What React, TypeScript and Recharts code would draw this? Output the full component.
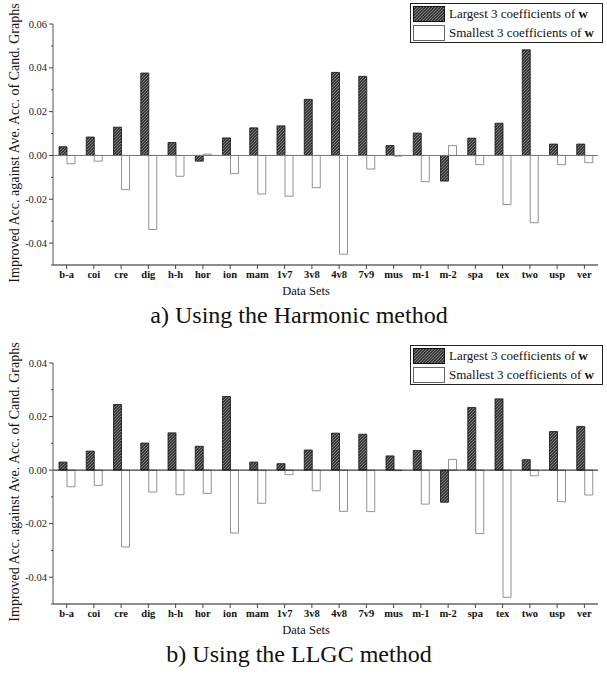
import React from 'react'
import { BarChart, Bar, XAxis, YAxis, ReferenceLine } from 'recharts'

const categories = ['b-a', 'coi', 'cre', 'dig', 'h-h', 'hor', 'ion', 'mam', '1v7', '3v8', '4v8', '7v9', 'mus', 'm-1', 'm-2', 'spa', 'tex', 'two', 'usp', 'ver']

// a) Harmonic
const harmonicLargest = [0.004, 0.0084, 0.0129, 0.0376, 0.0059, -0.0026, 0.008, 0.0126, 0.0135, 0.0256, 0.0379, 0.0361, 0.0045, 0.0102, -0.0117, 0.0079, 0.0147, 0.0482, 0.0052, 0.0052]
const harmonicSmallest = [-0.0038, -0.0026, -0.0156, -0.0338, -0.0095, 0.0006, -0.0083, -0.0176, -0.0186, -0.0147, -0.0451, -0.0062, -0.0003, -0.012, 0.0045, -0.0042, -0.0224, -0.0307, -0.0042, -0.0033]

// b) LLGC
const llgcLargest = [0.003, 0.0071, 0.0245, 0.0101, 0.0139, 0.0089, 0.0275, 0.003, 0.0024, 0.0075, 0.0138, 0.0134, 0.0053, 0.0073, -0.012, 0.0234, 0.0266, 0.0039, 0.0144, 0.0163]
const llgcSmallest = [-0.0062, -0.0057, -0.0287, -0.0082, -0.0092, -0.0087, -0.0235, -0.0124, -0.0017, -0.0077, -0.0154, -0.0155, -0.0002, -0.0127, 0.004, -0.0237, -0.0475, -0.0021, -0.0118, -0.0093]

const harmonicTicks = [-0.05, -0.04, -0.03, -0.02, -0.01, 0, 0.01, 0.02, 0.03, 0.04, 0.05, 0.06]
const llgcTicks = [-0.05, -0.04, -0.03, -0.02, -0.01, 0, 0.01, 0.02, 0.03, 0.04]

const FONT = '"Liberation Serif", "Times New Roman", serif'
const AXIS_X = 53

const YTick = (props: any) => {
  const { y, payload } = props
  const v = payload.value
  const major = Math.abs(Math.round(v * 100)) % 2 === 0
  return (
    <g>
      <line x1={AXIS_X - (major ? 4 : 2)} x2={AXIS_X} y1={y} y2={y} stroke='#444' />
      {major && (
        <text x={AXIS_X - 6} y={y} dy='0.35em' textAnchor='end' fontSize={10.5} style={{ fontFamily: FONT }} fill='#222'>
          {v.toFixed(2)}
        </text>
      )}
    </g>
  )
}

function Hatch(props: { id: string }) {
  return (
    <pattern id={props.id} patternUnits='userSpaceOnUse' width={3} height={3}>
      <rect width={3} height={3} fill='#3a3a3a' />
      <path d='M-1,1 l2,-2 M0,3 l3,-3 M2,4 l2,-2' stroke='#9a9a9a' strokeWidth={0.7} />
    </pattern>
  )
}

function LegendBox(props: { top: number; id: string }) {
  return (
    <div
      style={{
        position: 'absolute',
        left: 410,
        top: props.top,
        width: 191,
        height: 38,
        border: '1px solid #222',
        background: '#fff',
        fontFamily: FONT,
        fontSize: 13,
        lineHeight: '19px',
        color: '#111',
        whiteSpace: 'nowrap',
      }}
    >
      <div style={{ display: 'flex', alignItems: 'center', height: 19 }}>
        <svg width={32} height={16} style={{ marginLeft: 2, marginRight: 4 }}>
          <defs>
            <Hatch id={props.id} />
          </defs>
          <rect x={0.5} y={0.5} width={31} height={15} fill={`url(#${props.id})`} stroke='#111' />
        </svg>
        <span>
          Largest 3 coefficients of <b>w</b>
        </span>
      </div>
      <div style={{ display: 'flex', alignItems: 'center', height: 19 }}>
        <svg width={32} height={16} style={{ marginLeft: 2, marginRight: 4 }}>
          <rect x={0.5} y={0.5} width={31} height={15} fill='#fff' stroke='#666' />
        </svg>
        <span>
          Smallest 3 coefficients of <b>w</b>
        </span>
      </div>
    </div>
  )
}

function Panel(props: {
  top: number
  marginTop: number
  largest: number[]
  smallest: number[]
  ticks: number[]
  domain: [number, number]
  zeroColor: string
  id: string
  title: string
  legendTop: number
}) {
  const { top, marginTop, largest, smallest, ticks, domain, zeroColor, id, title, legendTop } = props
  const data = categories.map((name, i) => ({
    name,
    largest: largest[i],
    smallest: smallest[i],
  }))
  const height = marginTop + 241 + 35
  return (
    <div style={{ position: 'absolute', left: 0, top, width: 607, height: height + 40 }}>
      <BarChart
        width={607}
        height={height}
        data={data}
        margin={{ top: marginTop, right: 9, bottom: 0, left: 0 }}
        barGap={0}
      >
        <defs>
          <Hatch id={id} />
        </defs>
        <XAxis
          dataKey='name'
          interval={0}
          height={35}
          tickSize={4}
          tickMargin={2}
          tickLine={{ stroke: '#444' }}
          axisLine={{ stroke: '#666', strokeWidth: 1.5 }}
          tick={{ fontSize: 10.5, fontWeight: 'bold', fill: '#111', style: { fontFamily: FONT } }}
        />
        <YAxis
          width={AXIS_X}
          domain={domain}
          ticks={ticks}
          interval={0}
          tickLine={false}
          axisLine={{ stroke: '#555' }}
          tick={<YTick />}
        />
        <ReferenceLine y={0} stroke={zeroColor} />
        <Bar dataKey='largest' barSize={8} fill={`url(#${id})`} stroke='#111' strokeWidth={0.8} isAnimationActive={false} />
        <Bar dataKey='smallest' barSize={8} fill='#fff' stroke='#777' strokeWidth={0.8} isAnimationActive={false} />
      </BarChart>
      <div
        style={{
          position: 'absolute',
          left: 15,
          top: marginTop + 119,
          transform: 'translate(-50%, -50%) rotate(-90deg)',
          whiteSpace: 'nowrap',
          fontFamily: FONT,
          fontSize: 14,
          color: '#111',
        }}
      >
        Improved Acc. against Ave. Acc. of Cand. Graphs
      </div>
      <div
        style={{
          position: 'absolute',
          left: 306,
          top: marginTop + 241 + 19,
          transform: 'translateX(-50%)',
          whiteSpace: 'nowrap',
          fontFamily: FONT,
          fontSize: 12.5,
          color: '#111',
        }}
      >
        Data Sets
      </div>
      <div
        style={{
          position: 'absolute',
          left: 299,
          top: marginTop + 241 + 37,
          transform: 'translateX(-50%)',
          whiteSpace: 'nowrap',
          fontFamily: FONT,
          fontSize: 24,
          color: '#111',
        }}
      >
        {title}
      </div>
      <LegendBox top={legendTop} id={id + 'L'} />
    </div>
  )
}

export default function App() {
  return (
    <div style={{ position: 'absolute', left: 0, top: 0, width: 607, height: 677, background: '#fff' }}>
      <Panel
        top={0}
        marginTop={24}
        largest={harmonicLargest}
        smallest={harmonicSmallest}
        ticks={harmonicTicks}
        domain={[-0.05, 0.06]}
        zeroColor='#777'
        id='hatchA'
        title='a) Using the Harmonic method'
        legendTop={3}
      />
      <Panel
        top={330}
        marginTop={33}
        largest={llgcLargest}
        smallest={llgcSmallest}
        ticks={llgcTicks}
        domain={[-0.05, 0.04]}
        zeroColor='#111'
        id='hatchB'
        title='b) Using the LLGC method'
        legendTop={15}
      />
    </div>
  )
}
